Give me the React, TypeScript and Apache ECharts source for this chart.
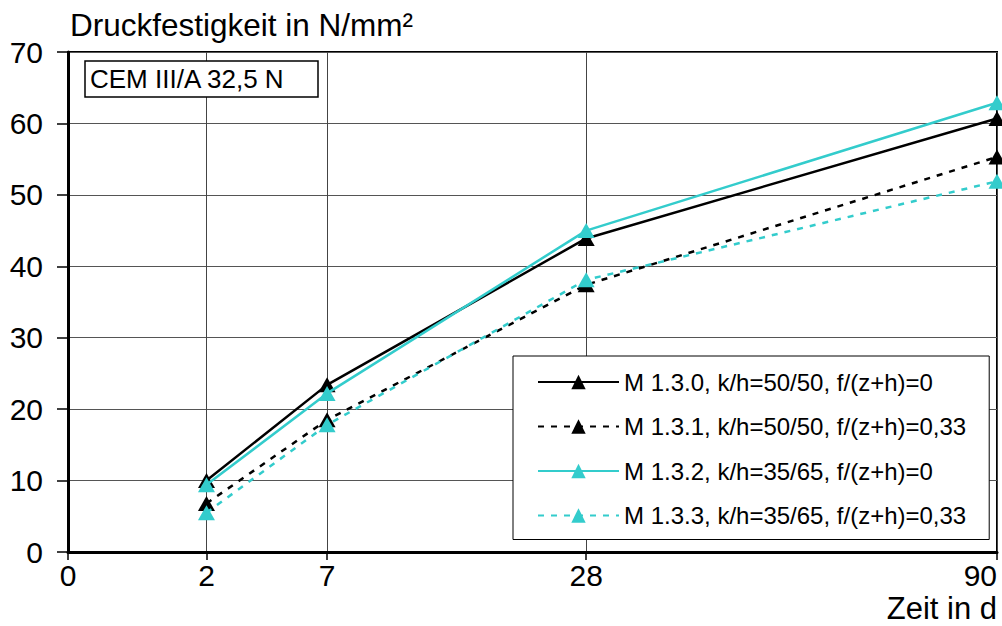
import React, { useEffect, useRef } from "react";
import * as echarts from "echarts";

const days = [2, 7, 28, 90];
const xTickDays = [0, 2, 7, 28, 90];
const yTicks = [0, 10, 20, 30, 40, 50, 60, 70];

const seriesNames = [
  "M 1.3.0, k/h=50/50, f/(z+h)=0",
  "M 1.3.1, k/h=50/50, f/(z+h)=0,33",
  "M 1.3.2, k/h=35/65, f/(z+h)=0",
  "M 1.3.3, k/h=35/65, f/(z+h)=0,33",
];
const m130 = [10.0, 23.4, 43.9, 60.7];
const m131 = [6.8, 18.5, 37.4, 55.3];
const m132 = [9.4, 22.2, 45.0, 62.9];
const m133 = [5.5, 17.8, 38.1, 51.9];

const BLACK = "#000000";
const CYAN = "#33CCCC";
const FONT = "Liberation Sans";

export default function App() {
  const ref = useRef<HTMLDivElement>(null);

  useEffect(() => {
    if (!ref.current) return;
    const chart = echarts.init(ref.current, undefined, { renderer: "svg" });
    const toX = (d: number) => Math.sqrt(d);
    const mk = (vals: number[]) => days.map((d, i) => [toX(d), vals[i]]);

    const styles = [
      { color: BLACK, dash: "solid" as any, data: m130 },
      { color: BLACK, dash: [6, 7] as any, data: m131 },
      { color: CYAN, dash: "solid" as any, data: m132 },
      { color: CYAN, dash: [6, 7] as any, data: m133 },
    ];

    const option: any = {
      animation: false,
      textStyle: { fontFamily: FONT },
      grid: {
        left: 68,
        right: 5,
        top: 52,
        bottom: 74,
        show: true,
        borderColor: BLACK,
        borderWidth: 2,
        backgroundColor: "transparent",
      },
      xAxis: {
        type: "value",
        min: 0,
        max: Math.sqrt(90),
        axisLine: { show: true, onZero: false, lineStyle: { color: BLACK, width: 3 } },
        axisTick: {
          show: true,
          inside: false,
          length: 8,
          customValues: xTickDays.map(toX),
          lineStyle: { color: BLACK, width: 1.5 },
        },
        axisLabel: {
          customValues: xTickDays.map(toX),
          formatter: (v: number) => String(Math.round(v * v)),
          fontSize: 30,
          color: BLACK,
          fontFamily: FONT,
          margin: 8,
          alignMaxLabel: "right",
        },
        splitLine: { show: true, lineStyle: { color: "#444", width: 1 } },
      },
      yAxis: {
        type: "value",
        min: yTicks[0],
        max: yTicks[yTicks.length - 1],
        interval: 10,
        axisLine: { show: true, onZero: false, lineStyle: { color: BLACK, width: 3 } },
        axisTick: { show: true, inside: false, length: 11, lineStyle: { color: BLACK, width: 1.5 } },
        axisLabel: { fontSize: 30, color: BLACK, fontFamily: FONT, margin: 25 },
        splitLine: { show: true, lineStyle: { color: "#555", width: 1 } },
      },
      legend: {
        orient: "vertical",
        left: 513,
        top: 356,
        padding: [14, 23, 12, 24],
        itemWidth: 81,
        itemHeight: 18,
        itemGap: 20.5,
        backgroundColor: "#ffffff",
        borderColor: BLACK,
        borderWidth: 1,
        borderRadius: 0,
        textStyle: { fontSize: 24, color: BLACK, fontFamily: FONT },
        data: seriesNames,
      },
      graphic: [
        {
          type: "text",
          left: 70,
          top: 9,
          style: { text: "Druckfestigkeit in N/mm²", fontSize: 31.5, fontFamily: FONT, fill: BLACK },
          z: 100,
        },
        {
          type: "text",
          right: 5,
          top: 593,
          style: { text: "Zeit in d", fontSize: 31, fontFamily: FONT, fill: BLACK },
          z: 100,
        },
        {
          type: "rect",
          shape: { x: 85, y: 61, width: 233, height: 36 },
          style: { fill: "#ffffff", stroke: BLACK, lineWidth: 1.5 },
          z: 100,
        },
        {
          type: "text",
          x: 90,
          y: 79,
          style: {
            text: "CEM III/A 32,5 N",
            fontSize: 26,
            fontFamily: FONT,
            fill: BLACK,
            verticalAlign: "middle",
          },
          z: 101,
        },
      ],
      series: styles.map((s, i) => ({
        name: seriesNames[i],
        type: "line",
        data: mk(s.data),
        symbol: "triangle",
        symbolSize: [17, 15],
        showSymbol: true,
        color: s.color,
        itemStyle: { color: s.color },
        lineStyle: { color: s.color, width: 2.5, type: s.dash },
        z: 3 + i,
      })),
    };

    chart.setOption(option);
    return () => chart.dispose();
  }, []);

  return (
    <div
      ref={ref}
      style={{ position: "fixed", left: 0, top: 0, width: 1002, height: 626, background: "#fff" }}
    />
  );
}
